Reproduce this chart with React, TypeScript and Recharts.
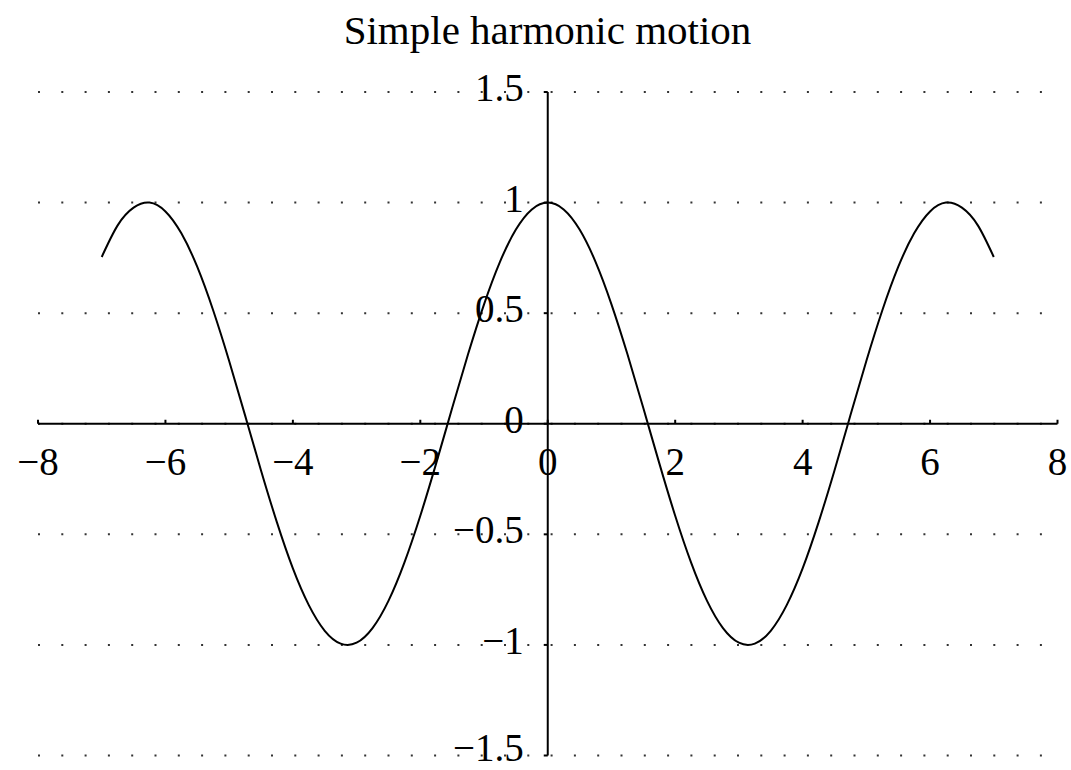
import React from "react";
import {
  LineChart,
  Line,
  XAxis,
  YAxis,
  CartesianGrid,
  ReferenceLine,
} from "recharts";

// readings, x from -7 to 7 in steps of 0.25
const xValues = [
  -7, -6.75, -6.5, -6.25, -6, -5.75, -5.5, -5.25, -5, -4.75, -4.5, -4.25, -4,
  -3.75, -3.5, -3.25, -3, -2.75, -2.5, -2.25, -2, -1.75, -1.5, -1.25, -1, -0.75,
  -0.5, -0.25, 0, 0.25, 0.5, 0.75, 1, 1.25, 1.5, 1.75, 2, 2.25, 2.5, 2.75, 3,
  3.25, 3.5, 3.75, 4, 4.25, 4.5, 4.75, 5, 5.25, 5.5, 5.75, 6, 6.25, 6.5, 6.75, 7,
];
const yValues = [
  0.754, 0.897, 0.977, 1.0, 0.96, 0.861, 0.709, 0.512, 0.284, 0.038, -0.211,
  -0.446, -0.654, -0.82, -0.936, -0.994, -0.99, -0.924, -0.801, -0.628, -0.416,
  -0.178, 0.071, 0.315, 0.54, 0.732, 0.878, 0.969, 1.0, 0.969, 0.878, 0.732,
  0.54, 0.315, 0.071, -0.178, -0.416, -0.628, -0.801, -0.924, -0.99, -0.994,
  -0.936, -0.82, -0.654, -0.446, -0.211, 0.038, 0.284, 0.512, 0.709, 0.861,
  0.96, 1.0, 0.977, 0.897, 0.754,
];
const xTicks = [-8, -6, -4, -2, 0, 2, 4, 6, 8];
const yTicks = [-1.5, -1, -0.5, 0, 0.5, 1, 1.5];

const data = xValues.map((x, i) => ({ x, y: yValues[i] }));

const W = 1071;
const H = 770;
const AXIS_SIZE = 10;
// plot area: x 38..1057.5, y 92..755.5
const PLOT = { left: 38, right: 1057.5, top: 92, bottom: 755.5 };
const M = {
  top: PLOT.top,
  right: W - PLOT.right,
  bottom: H - PLOT.bottom - AXIS_SIZE,
  left: PLOT.left - AXIS_SIZE,
};
// domains are symmetric, so the axes cross in the middle of the plot
const X0 = (PLOT.left + PLOT.right) / 2;
const Y0 = (PLOT.top + PLOT.bottom) / 2;

const FONT = "'Liberation Serif', 'Times New Roman', serif";
const fmt = (v: number) => (v < 0 ? "\u2212" + String(-v) : String(v));

const renderXTick = (props: any) => {
  const { x, payload } = props;
  return (
    <g key={"xt" + payload.value}>
      <line x1={x} x2={x} y1={Y0} y2={Y0 - 4} stroke="#000" strokeWidth={2} />
      <text
        x={x}
        y={Y0 + 51}
        textAnchor="middle"
        fontFamily={FONT}
        fontSize={39}
        fill="#000"
      >
        {fmt(payload.value)}
      </text>
    </g>
  );
};

const renderYTick = (props: any) => {
  const { y, payload } = props;
  // lowest label sits a little higher so it stays inside the picture
  const dy = y > H - 30 ? 5 : 9;
  return (
    <g key={"yt" + payload.value}>
      <line x1={X0 - 4} x2={X0} y1={y} y2={y} stroke="#000" strokeWidth={2} />
      <text
        x={X0 - 24}
        y={y + dy}
        textAnchor="end"
        fontFamily={FONT}
        fontSize={39}
        fill="#000"
      >
        {fmt(payload.value)}
      </text>
    </g>
  );
};

export default function App() {
  return (
    <div
      style={{
        position: "absolute",
        left: 0,
        top: 0,
        width: W,
        height: H,
        background: "#fff",
      }}
    >
      <div
        style={{
          position: "absolute",
          left: 0,
          top: 7,
          width: W + 24,
          textAlign: "center",
          fontFamily: FONT,
          fontSize: 41,
          lineHeight: "46px",
          color: "#000",
        }}
      >
        Simple harmonic motion
      </div>
      <LineChart width={W} height={H} data={data} margin={M}>
        <CartesianGrid
          vertical={false}
          stroke="#333"
          strokeWidth={2}
          strokeDasharray="2 21.3"
        />
        <XAxis
          dataKey="x"
          type="number"
          domain={[-8, 8]}
          ticks={xTicks}
          height={AXIS_SIZE}
          axisLine={false}
          tickLine={false}
          tick={renderXTick}
          interval={0}
        />
        <YAxis
          type="number"
          domain={[-1.5, 1.5]}
          ticks={yTicks}
          width={AXIS_SIZE}
          axisLine={false}
          tickLine={false}
          tick={renderYTick}
          interval={0}
        />
        <ReferenceLine x={0} stroke="#000" strokeWidth={2} />
        <ReferenceLine y={0} stroke="#000" strokeWidth={2} />
        <Line
          dataKey="y"
          type="natural"
          stroke="#000"
          strokeWidth={2}
          dot={false}
          isAnimationActive={false}
        />
      </LineChart>
    </div>
  );
}
